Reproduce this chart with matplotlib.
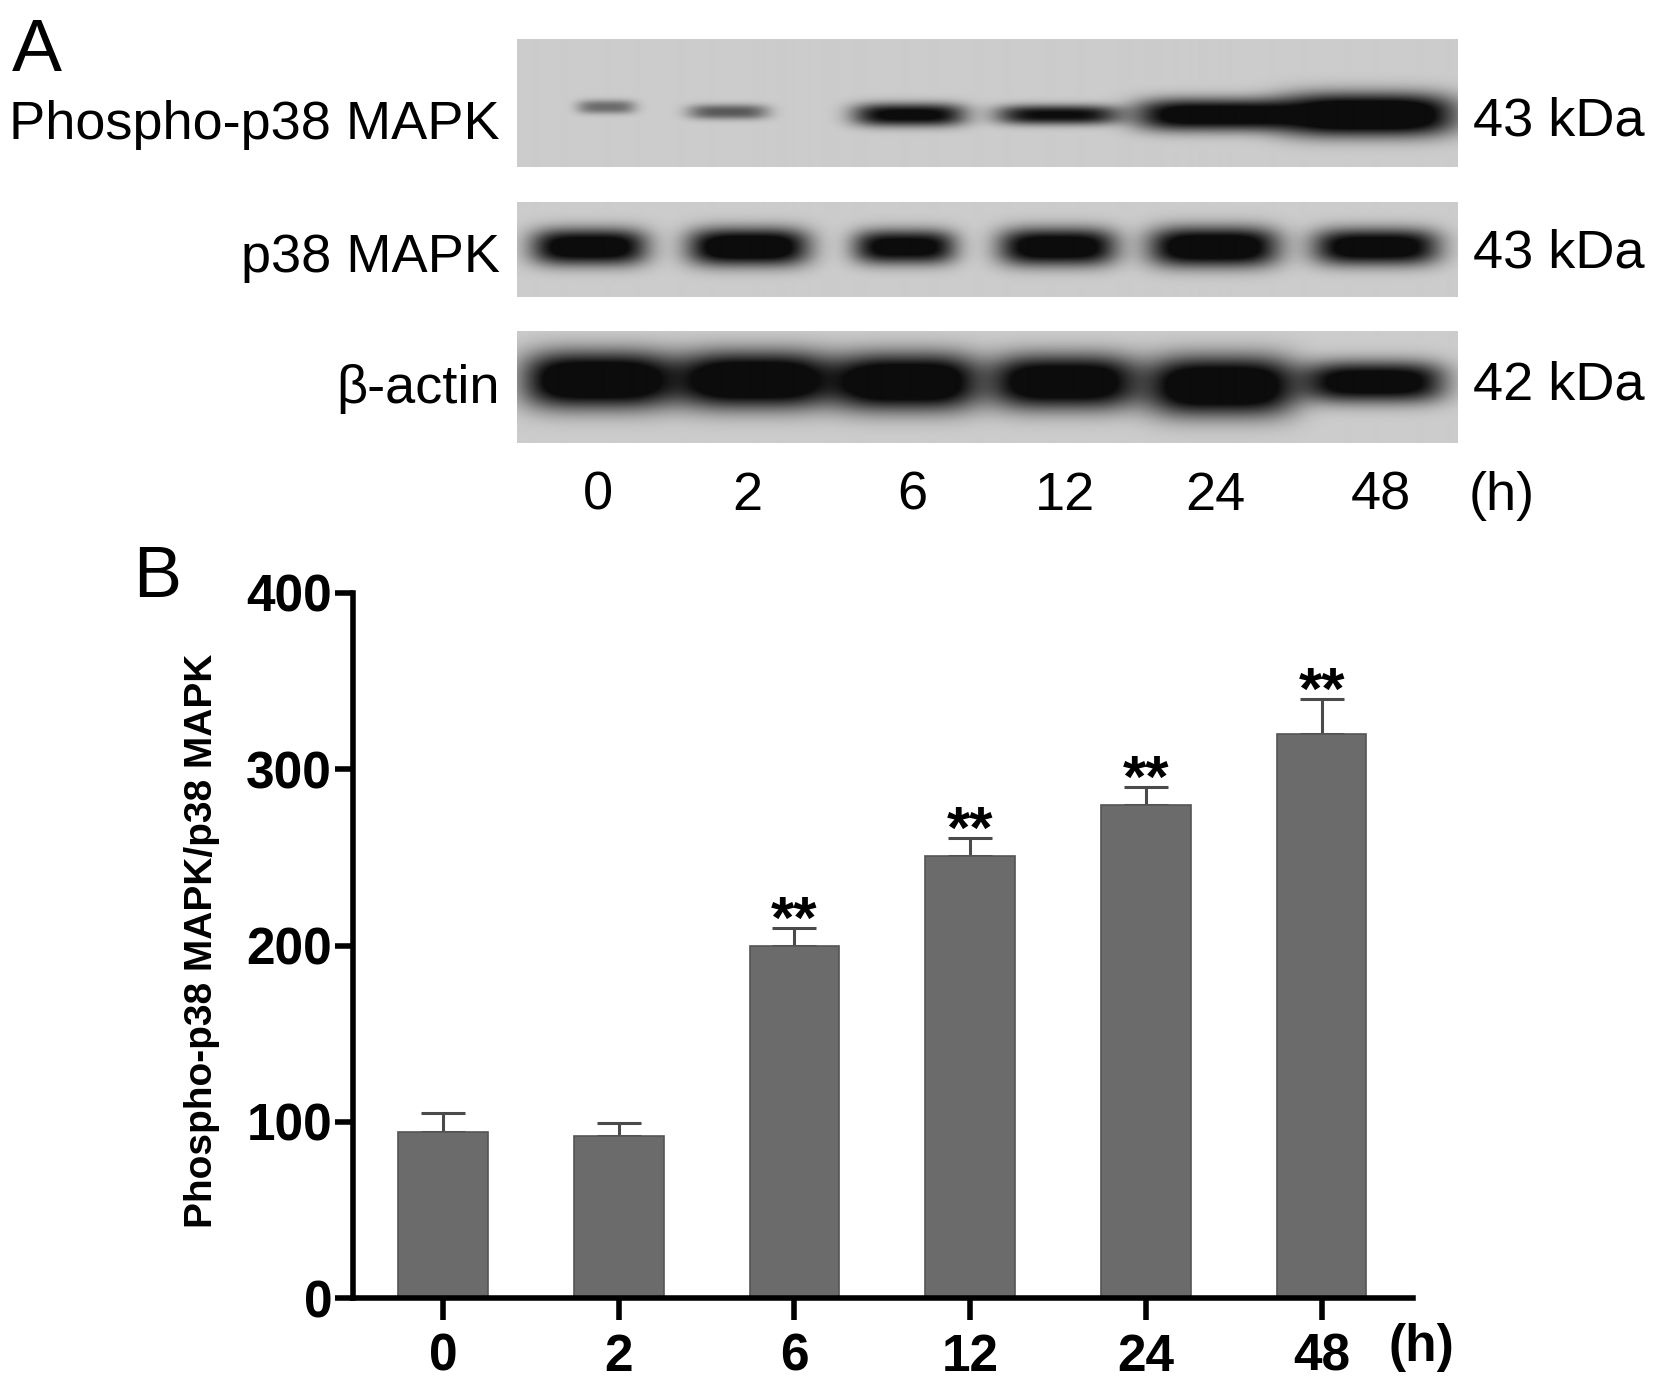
"""Phospho-p38 MAPK time course: western blot (A) and densitometry bars (B)."""

import matplotlib
matplotlib.use("Agg")
import matplotlib.pyplot as plt
import numpy as np
from matplotlib import font_manager

# -- Data ------------------------------------------------------------------
hours = ["0", "2", "6", "12", "24", "48"]
ratio_mean = [94, 92, 200, 251, 280, 320]
ratio_err = [11, 7.5, 10, 10, 10, 20]
stars = ["", "", "**", "**", "**", "**"]

blot_rows = ["Phospho-p38 MAPK", "p38 MAPK", "β-actin"]
blot_kda = ["43 kDa", "43 kDa", "42 kDa"]

# band darkness per lane (0 = none, 1 = saturated)
phospho_amp = [0.42, 0.5, 0.9, 0.85, 1.0, 1.15]
p38_amp = [1.0, 1.05, 0.95, 1.0, 1.05, 1.0]
actin_amp = [1.1, 1.1, 1.1, 1.05, 1.1, 1.0]
# band widths (lane units) and heights (px)
phospho_w = [0.34, 0.47, 0.66, 0.72, 0.88, 1.04]
p38_w = [0.68, 0.71, 0.60, 0.69, 0.76, 0.74]
actin_w = [0.89, 0.91, 0.85, 0.87, 0.87, 0.83]
phospho_h = [12, 13, 20, 17, 28, 37]
p38_h = [32, 33, 30, 33, 35, 32]
actin_h = [50, 50, 50, 48, 52, 36]
# small lane drift of each band (lane units)
phospho_dx = [0.05, -0.17, -0.01, -0.06, -0.08, -0.08]
p38_dx = [-0.06, -0.04, -0.04, -0.06, -0.06, -0.02]
actin_dx = [0.0, 0.0, -0.03, -0.02, -0.01, -0.03]

# -- Layout (figure pixels) --------------------------------------------------
W, H = 1654, 1388
BG_BLOT = 0.80
INK = 0.05
BAR_COLOR = "#6b6b6b"
ERR_COLOR = "#4a4a4a"

names = {f.name for f in font_manager.fontManager.ttflist}
if "Liberation Sans Narrow" in names:
    NARROW, NSIZE = "Liberation Sans Narrow", 45
else:
    NARROW, NSIZE = "Liberation Sans", 39
BOLD = "Liberation Sans"

fig = plt.figure(figsize=(W / 100, H / 100), dpi=100, facecolor="white")


def fx(x):
    return x / W


def fy(y):
    return 1 - y / H


def put(x, y, s, **kw):
    fig.text(fx(x), fy(y), s, **kw)


# -- Panel A: blot strips ----------------------------------------------------
strips = [
    # (top, bottom, band centre y, amps, widths, heights, drift)
    (39, 167, [107, 112, 115, 115, 115, 115], phospho_amp, phospho_w, phospho_h, phospho_dx),
    (202, 297, [247] * 6, p38_amp, p38_w, p38_h, p38_dx),
    (331, 443, [380, 380, 382, 382, 386, 382], actin_amp, actin_w, actin_h, actin_dx),
]
x_lo, x_hi = -0.52, 5.50
left_px, right_px = 517, 1458

for top, bot, yc, amp, bw, bh, drift in strips:
    ax = fig.add_axes([fx(left_px), fy(bot), fx(right_px - left_px), (bot - top) / H])
    xs = np.linspace(x_lo, x_hi, 940)
    ys = np.linspace(top, bot, bot - top)
    X, Y = np.meshgrid(xs, ys)
    dark = np.zeros_like(X)
    for i in range(len(hours)):
        gx = np.exp(-np.log(2) * (np.abs(X - i - drift[i]) / (bw[i] / 2)) ** 4)
        gy = np.exp(-np.log(2) * (np.abs(Y - yc[i]) / (bh[i] / 2)) ** 2.5)
        dark += amp[i] * gx * gy
    dark = np.clip(dark * 1.2, 0, 1)
    img = BG_BLOT - (BG_BLOT - INK) * dark
    ax.imshow(img, cmap="gray", vmin=0, vmax=1, aspect="auto",
              extent=(x_lo, x_hi, bot, top), interpolation="bilinear")
    ax.set_xlim(x_lo, x_hi)
    ax.set_ylim(bot, top)
    ax.axis("off")

row_base = [139, 272, 403]
kda_base = [136, 268, 400]
for lab, kda, yb, yk in zip(blot_rows, blot_kda, row_base, kda_base):
    put(500, yb, lab, ha="right", va="baseline", family=NARROW, fontsize=NSIZE)
    put(1473, yk, kda, ha="left", va="baseline", family=NARROW, fontsize=NSIZE)

lane_x = [598, 747, 912, 1065, 1215, 1381]
for lx, h in zip(lane_x, hours):
    put(lx, 510, h, ha="center", va="baseline", family=NARROW, fontsize=NSIZE)
put(1502, 510, "(h)", ha="center", va="baseline", family=NARROW, fontsize=NSIZE)

put(12, 71, "A", ha="left", va="baseline", family=BOLD, fontsize=54)
put(133, 597, "B", ha="left", va="baseline", family=BOLD, fontsize=52)

# -- Panel B: bar chart ------------------------------------------------------
ax_l, ax_r, ax_t, ax_b = 353, 1413, 593, 1298
ax = fig.add_axes([fx(ax_l), fy(ax_b), fx(ax_r - ax_l), (ax_b - ax_t) / H])
xpos = np.arange(len(hours))
ax.bar(xpos, ratio_mean, width=0.51, color=BAR_COLOR, edgecolor="#555555",
       linewidth=1.2, zorder=2)
ax.errorbar(xpos, ratio_mean, yerr=[np.zeros(len(hours)), ratio_err], fmt="none",
            ecolor=ERR_COLOR, elinewidth=2.2, capsize=16, capthick=2.2, zorder=1)
for x, m, e, s in zip(xpos, ratio_mean, ratio_err, stars):
    if s:
        ax.annotate(s, (x, m + e), xytext=(0, -7), textcoords="offset points",
                    ha="center", va="baseline", family=BOLD, fontweight="bold",
                    fontsize=43)

ax.set_xlim(-0.512, 5.52)
ax.set_ylim(0, 400)
ax.set_yticks([0, 100, 200, 300, 400])
ax.set_xticks(xpos)
ax.set_xticklabels(hours)
for sp in ("top", "right"):
    ax.spines[sp].set_visible(False)
for sp in ("left", "bottom"):
    ax.spines[sp].set_linewidth(4)
ax.tick_params(axis="y", length=13, width=4, pad=2)
ax.tick_params(axis="x", length=16, width=4, pad=9)
for t in ax.get_xticklabels() + ax.get_yticklabels():
    t.set_fontfamily(BOLD)
    t.set_fontweight("bold")
    t.set_fontsize(37)

put(1421, 1348, "(h)", ha="center", va="center", family=BOLD,
    fontweight="bold", fontsize=37)
put(202, 941, "Phospho-p38 MAPK/p38 MAPK", ha="center", va="center",
    rotation=90, family=BOLD, fontweight="bold", fontsize=28)

fig.savefig("out.png", dpi=100, facecolor="white")
